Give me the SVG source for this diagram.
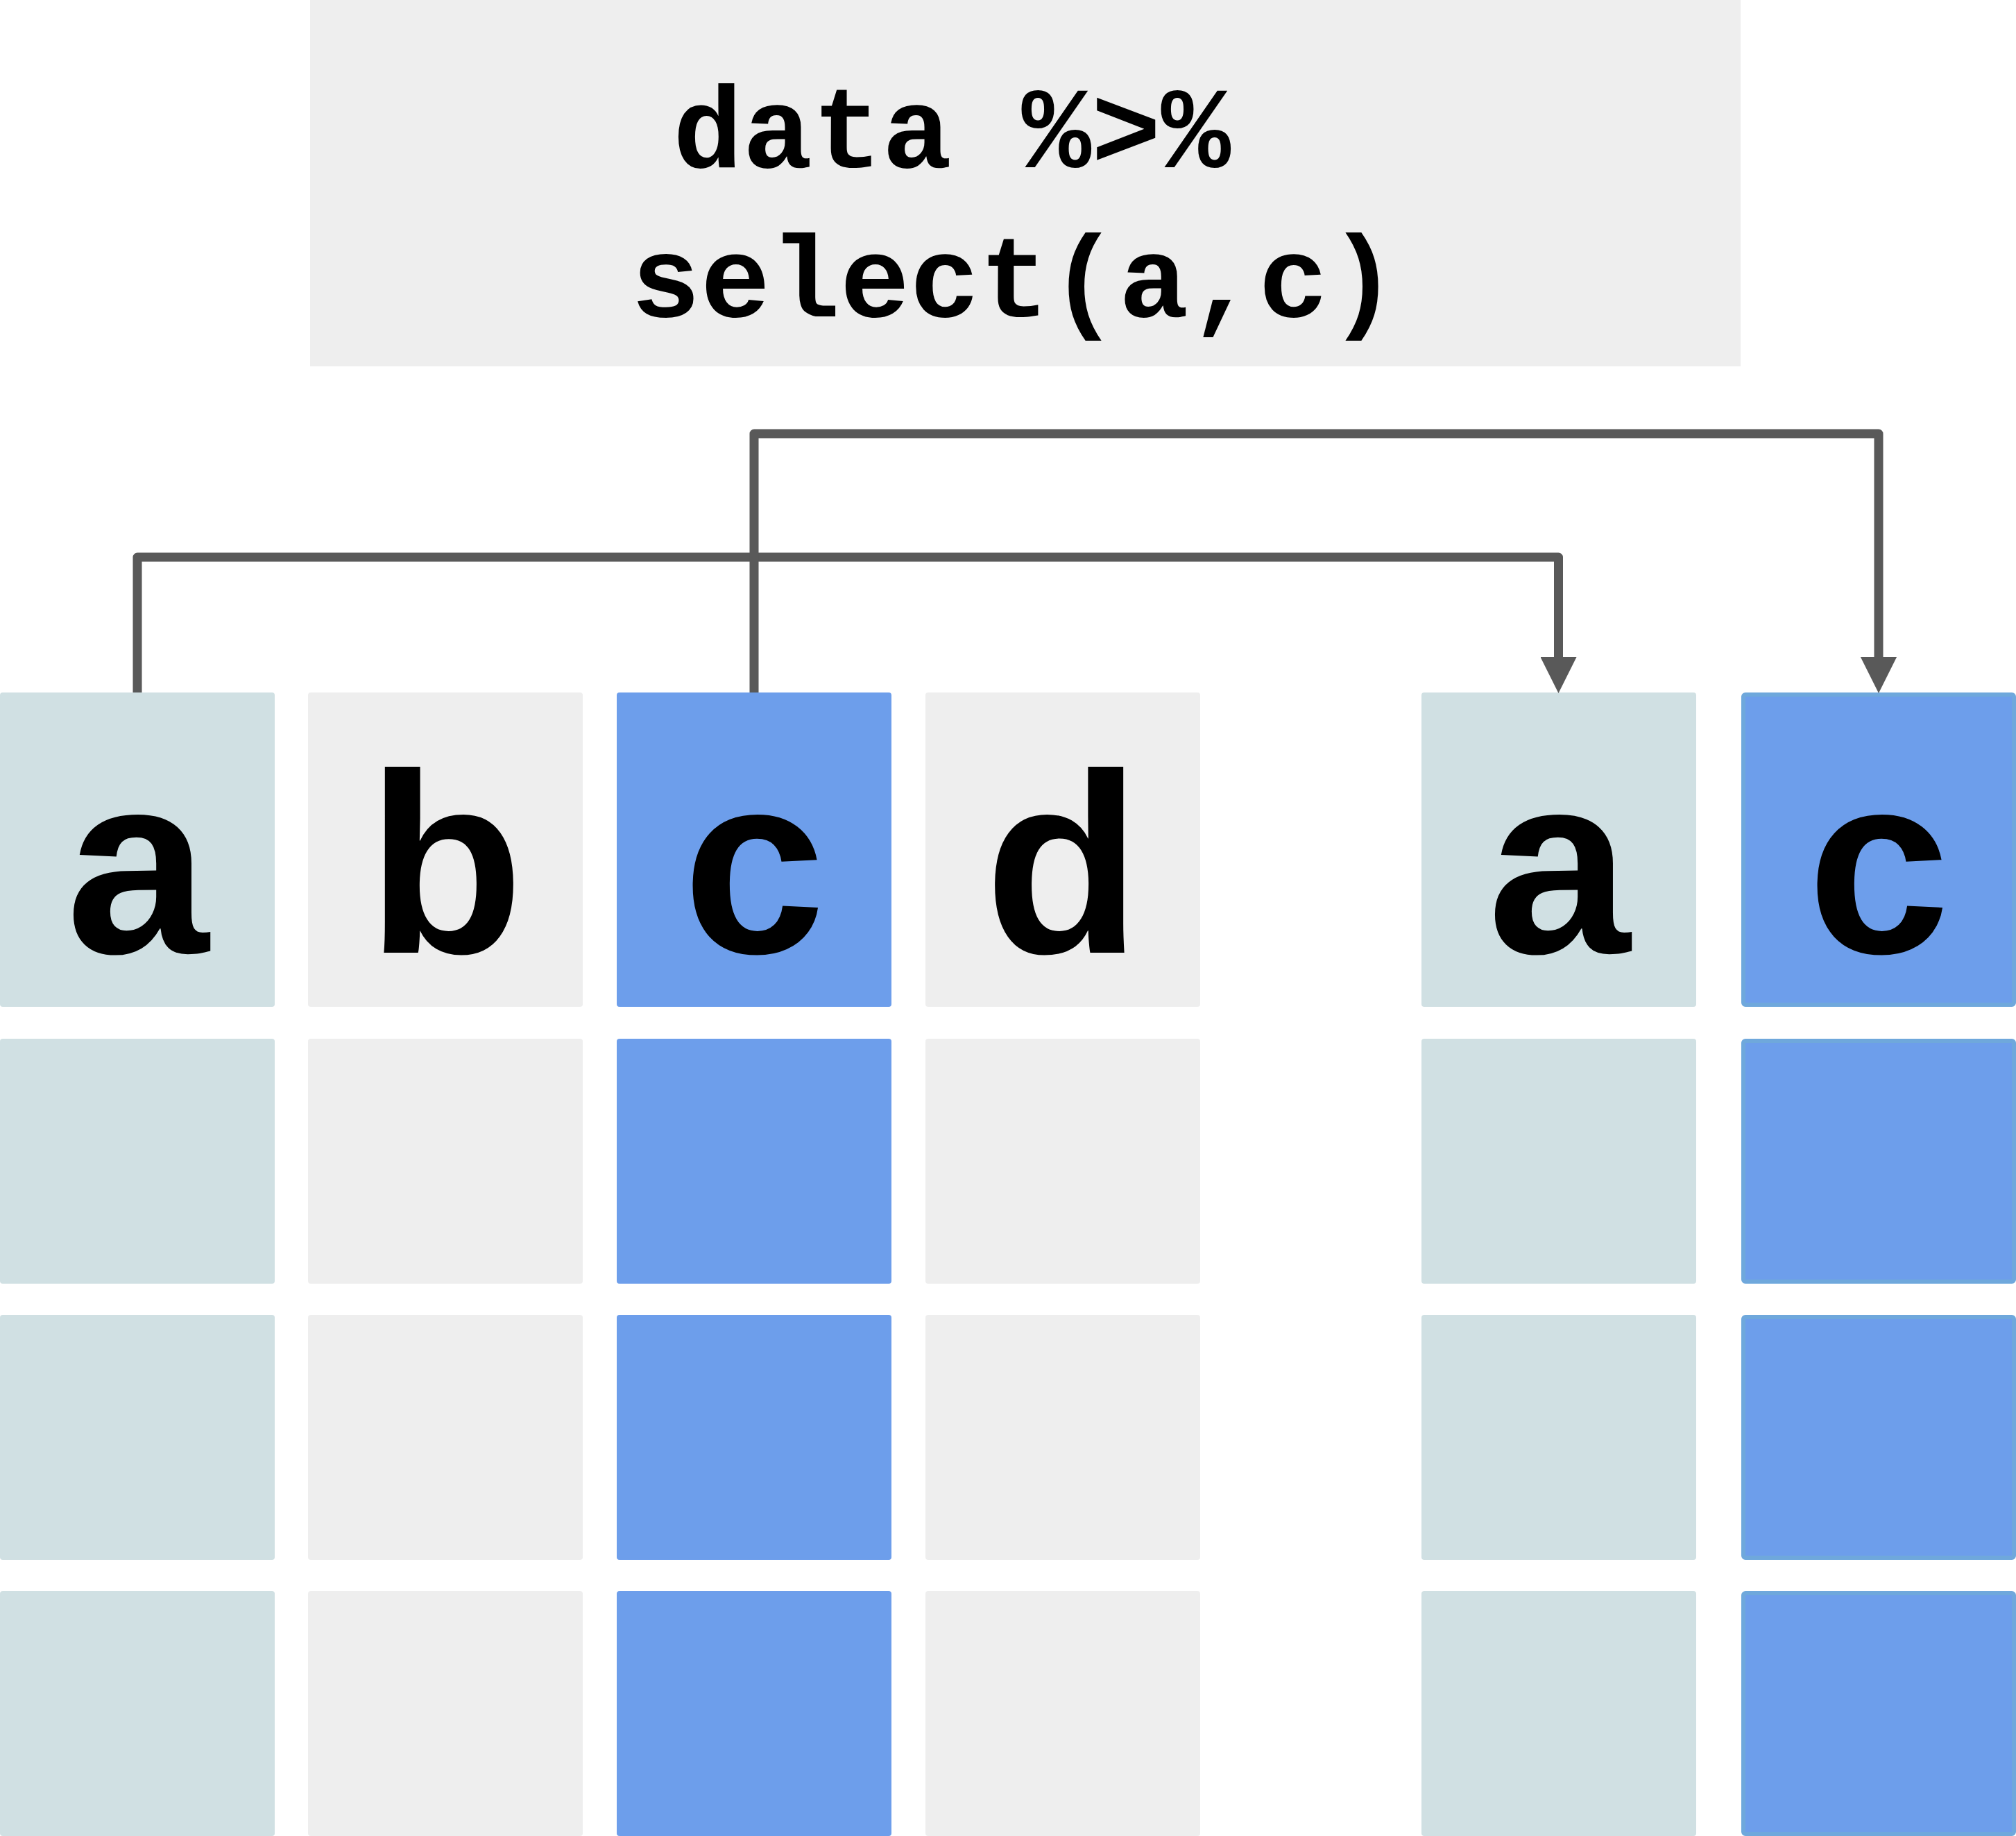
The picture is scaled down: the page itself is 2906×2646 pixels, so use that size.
<svg xmlns="http://www.w3.org/2000/svg" width="2906" height="2646" viewBox="0 0 2906 2646">
  <defs>
    <style>
      .ca { fill: #d0e0e3; }
      .cg { fill: #eeeeee; }
      .cc { fill: #6d9eeb; }
      .cc2 { fill: #6d9eeb; stroke: #6fa8dc; stroke-width: 6; }
      .hdr { font-family: "Liberation Sans", Arial, sans-serif; font-weight: bold; font-size: 370px; fill: #000000; text-anchor: middle; }
      .code { font-family: "Liberation Mono", "Courier New", monospace; font-weight: bold; font-size: 167.5px; fill: #000000; text-anchor: middle; }
      .conn { fill: none; stroke: #595959; stroke-width: 13; stroke-linejoin: round; stroke-linecap: butt; }
    </style>
    <marker id="arrow" markerUnits="strokeWidth" markerWidth="4" markerHeight="4" viewBox="0 0 4 4" refX="0" refY="2" orient="auto">
      <path d="M0,0 L4,2 L0,4 Z" fill="#595959"/>
    </marker>
  </defs>
  <rect width="2906" height="2646" fill="#ffffff"/>

  <g id="code-box">
    <rect x="447" y="0" width="2062" height="528" fill="#eeeeee"/>
    <text class="code" x="1372" y="241">data %&gt;%</text>
    <text class="code" x="1462" y="456">select(a,c)</text>
  </g>

  <g id="col-a">
    <rect class="ca" x="0" y="998" width="396" height="453" rx="4"/>
    <rect class="ca" x="0" y="1497" width="396" height="353" rx="4"/>
    <rect class="ca" x="0" y="1895" width="396" height="353" rx="4"/>
    <rect class="ca" x="0" y="2293" width="396" height="353" rx="4"/>
    <text class="hdr" x="198" y="1373">a</text>
  </g>

  <g id="col-b">
    <rect class="cg" x="444" y="998" width="396" height="453" rx="4"/>
    <rect class="cg" x="444" y="1497" width="396" height="353" rx="4"/>
    <rect class="cg" x="444" y="1895" width="396" height="353" rx="4"/>
    <rect class="cg" x="444" y="2293" width="396" height="353" rx="4"/>
    <text class="hdr" x="642" y="1373">b</text>
  </g>

  <g id="col-c">
    <rect class="cc" x="889" y="998" width="396" height="453" rx="4"/>
    <rect class="cc" x="889" y="1497" width="396" height="353" rx="4"/>
    <rect class="cc" x="889" y="1895" width="396" height="353" rx="4"/>
    <rect class="cc" x="889" y="2293" width="396" height="353" rx="4"/>
    <text class="hdr" x="1087" y="1373">c</text>
  </g>

  <g id="col-d">
    <rect class="cg" x="1334" y="998" width="396" height="453" rx="4"/>
    <rect class="cg" x="1334" y="1497" width="396" height="353" rx="4"/>
    <rect class="cg" x="1334" y="1895" width="396" height="353" rx="4"/>
    <rect class="cg" x="1334" y="2293" width="396" height="353" rx="4"/>
    <text class="hdr" x="1532" y="1373">d</text>
  </g>

  <g id="out-a">
    <rect class="ca" x="2049" y="998" width="396" height="453" rx="4"/>
    <rect class="ca" x="2049" y="1497" width="396" height="353" rx="4"/>
    <rect class="ca" x="2049" y="1895" width="396" height="353" rx="4"/>
    <rect class="ca" x="2049" y="2293" width="396" height="353" rx="4"/>
    <text class="hdr" x="2247" y="1373">a</text>
  </g>

  <g id="out-c">
    <rect class="cc2" x="2513" y="1001" width="390" height="447" rx="3"/>
    <rect class="cc2" x="2513" y="1500" width="390" height="347" rx="3"/>
    <rect class="cc2" x="2513" y="1898" width="390" height="347" rx="3"/>
    <rect class="cc2" x="2513" y="2296" width="390" height="347" rx="3"/>
    <text class="hdr" x="2708" y="1373">c</text>
  </g>

  <g id="connectors">
    <path class="conn" d="M198,998 V803 H2246.5 V947" marker-end="url(#arrow)"/>
    <path class="conn" d="M1087,998 V625 H2708 V947" marker-end="url(#arrow)"/>
  </g>
</svg>
